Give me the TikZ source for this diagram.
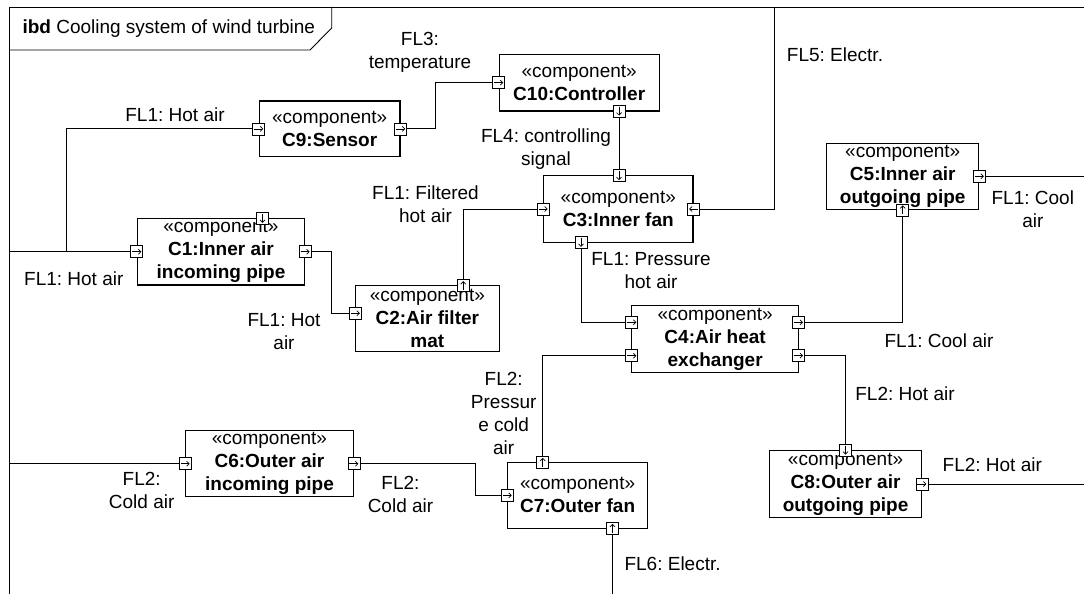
\documentclass[tikz,border=0pt]{standalone}
\usepackage{fontspec}
\setmainfont{Liberation Sans}
\usetikzlibrary{arrows.meta}
\frenchspacing

\begin{document}
\begin{tikzpicture}[x=1pt, y=-1pt,
  every node/.style={font=\fontsize{19pt}{23pt}\selectfont},
  part/.style={draw, line width=1.2pt, align=center, inner sep=0pt},
  port/.style={draw, line width=0.8pt, fill=white, minimum size=12pt, inner sep=0pt,
    path picture={\draw[line width=0.7pt, -{Straight Barb[length=2.5pt,width=5pt]}]
      (path picture bounding box.center) ++(180+#1:4.5pt) -- ++(#1:9pt);}},
  flow/.style={draw, line width=0.9pt},
  flowlabel/.style={align=center}
]
\useasboundingbox (0,0) rectangle (1084,594);
% frame
\draw[line width=0.9pt] (9,594) -- (9,7) -- (1084,7);
\draw[line width=0.9pt] (9,50) -- (310,50) -- (331.7,28) -- (331.7,7);
\node[anchor=west] (title) at (19,29) {\textbf{ibd} Cooling system of wind turbine};

% components
\node[part, minimum width=140.7pt, minimum height=55.7pt] (c9) at (329.7,128.9) {«component»\\\textbf{C9:Sensor}};
\node[part, minimum width=159.8pt, minimum height=56.7pt] (c10) at (579.2,82.7) {«component»\\\textbf{C10:Controller}};
\node[part, minimum width=149.4pt, minimum height=66.6pt] (c3) at (618.3,209) {«component»\\\textbf{C3:Inner fan}};
\node[part, minimum width=152.1pt, minimum height=66pt] (c5) at (902.75,176.3) {«component»\\\textbf{C5:Inner air}\\\textbf{outgoing pipe}};
\node[part, minimum width=167.1pt, minimum height=66.7pt] (c1) at (221,251.7) {«component»\\\textbf{C1:Inner air}\\\textbf{incoming pipe}};
\node[part, minimum width=143.9pt, minimum height=66pt] (c2) at (427.35,318.7) {«component»\\\textbf{C2:Air filter}\\\textbf{mat}};
\node[part, minimum width=166.7pt, minimum height=66.6pt] (c4) at (715.15,339) {«component»\\\textbf{C4:Air heat}\\\textbf{exchanger}};
\node[part, minimum width=167.6pt, minimum height=66pt] (c6) at (269.5,463.7) {«component»\\\textbf{C6:Outer air}\\\textbf{incoming pipe}};
\node[part, minimum width=139.6pt, minimum height=66pt] (c7) at (577.6,495.3) {«component»\\\textbf{C7:Outer fan}};
\node[part, minimum width=151.5pt, minimum height=66.6pt] (c8) at (845.55,484) {«component»\\\textbf{C8:Outer air}\\\textbf{outgoing pipe}};

% ports
\node[port=0] (c9in) at (c9.west) {};
\node[port=0] (c9out) at (c9.east) {};
\node[port=0] (c10in) at (c10.west) {};
\node[port=270] (c10out) at (619,111) {};
\node[port=270] (c3top) at (619,175.7) {};
\node[port=0] (c3in) at (c3.west) {};
\node[port=180] (c3pwr) at (c3.east) {};
\node[port=270] (c3out) at (581,242.3) {};
\node[port=0] (c5out) at (c5.east) {};
\node[port=90] (c5in) at (c5.south) {};
\node[port=0] (c1in) at (c1.west) {};
\node[port=0] (c1out) at (c1.east) {};
\node[port=270] (c1top) at (262.5,218.3) {};
\node[port=0] (c2in) at (355.4,313.3) {};
\node[port=90] (c2out) at (463.2,285.7) {};
\node[port=0] (c4in1) at (631.8,322.3) {};
\node[port=0] (c4in2) at (631.8,355.7) {};
\node[port=0] (c4out1) at (798.5,322.3) {};
\node[port=0] (c4out2) at (798.5,355.7) {};
\node[port=0] (c6in) at (c6.west) {};
\node[port=0] (c6out) at (c6.east) {};
\node[port=90] (c7out) at (542.7,462.3) {};
\node[port=0] (c7in) at (c7.west) {};
\node[port=90] (c7pwr) at (612.5,528.3) {};
\node[port=270] (c8in) at (c8.north) {};
\node[port=0] (c8out) at (c8.east) {};

% flows
\coordinate (hotsrc) at (9,251.7);
\coordinate (split) at (66,251.7);
\coordinate (elec5) at (774.7,7);
\coordinate (coolsink) at (1084,176.3);
\coordinate (hotsink) at (1084,484);
\coordinate (coldsrc) at (9,463.7);
\coordinate (elec6) at (612.5,594);
\draw[flow] (hotsrc) -- (c1in.west);
\draw[flow] (split) |- (c9in.west);
\draw[flow] (c9out.east) -- ++(28.5,0) |- (c10in.west);
\draw[flow] (c10out.south) -- (c3top.north);
\draw[flow] (c3pwr.east) -| (elec5);
\draw[flow] (c1out.east) -- ++(19.5,0) |- (c2in.west);
\draw[flow] (c2out.north) |- (c3in.west);
\draw[flow] (c3out.south) |- (c4in1.west);
\draw[flow] (c4out1.east) -| (c5in.south);
\draw[flow] (c5out.east) -- (coolsink);
\draw[flow] (c4out2.east) -| (c8in.north);
\draw[flow] (c8out.east) -- (hotsink);
\draw[flow] (c7out.north) |- (c4in2.west);
\draw[flow] (coldsrc) -- (c6in.west);
\draw[flow] (c6out.east) -- ++(115,0) |- (c7in.west);
\draw[flow] (c7pwr.south) -- (elec6);

% flow labels
\node[flowlabel] (lhot1) at (175,115) {FL1: Hot air};
\node[flowlabel] (lhot2) at (73.8,278.3) {FL1: Hot air};
\node[flowlabel] (ltemp) at (420,52.5) {FL3:\\temperature};
\node[flowlabel] (lsig) at (546,149.5) {FL4: controlling\\signal};
\node[flowlabel] (lelec5) at (835,55) {FL5: Electr.};
\node[flowlabel] (lfilt) at (425.5,204) {FL1: Filtered\\hot air};
\node[flowlabel] (lhot3) at (284,332) {FL1: Hot\\air};
\node[flowlabel] (lpress) at (651,271) {FL1: Pressure\\hot air};
\node[flowlabel] (lcool1) at (1032.8,209) {FL1: Cool\\air};
\node[flowlabel] (lcool2) at (939,341) {FL1: Cool air};
\node[flowlabel] (lhot4) at (905,393.3) {FL2: Hot air};
\node[flowlabel] (lpcold) at (503.7,413.5) {FL2:\\Pressur\\e cold\\air};
\node[flowlabel] (lhot5) at (992.3,464.3) {FL2: Hot air};
\node[flowlabel] (lcold1) at (141.7,490.3) {FL2:\\Cold air};
\node[flowlabel] (lcold2) at (400.5,494) {FL2:\\Cold air};
\node[flowlabel] (lelec6) at (672.6,563.3) {FL6: Electr.};
\end{tikzpicture}
\end{document}
